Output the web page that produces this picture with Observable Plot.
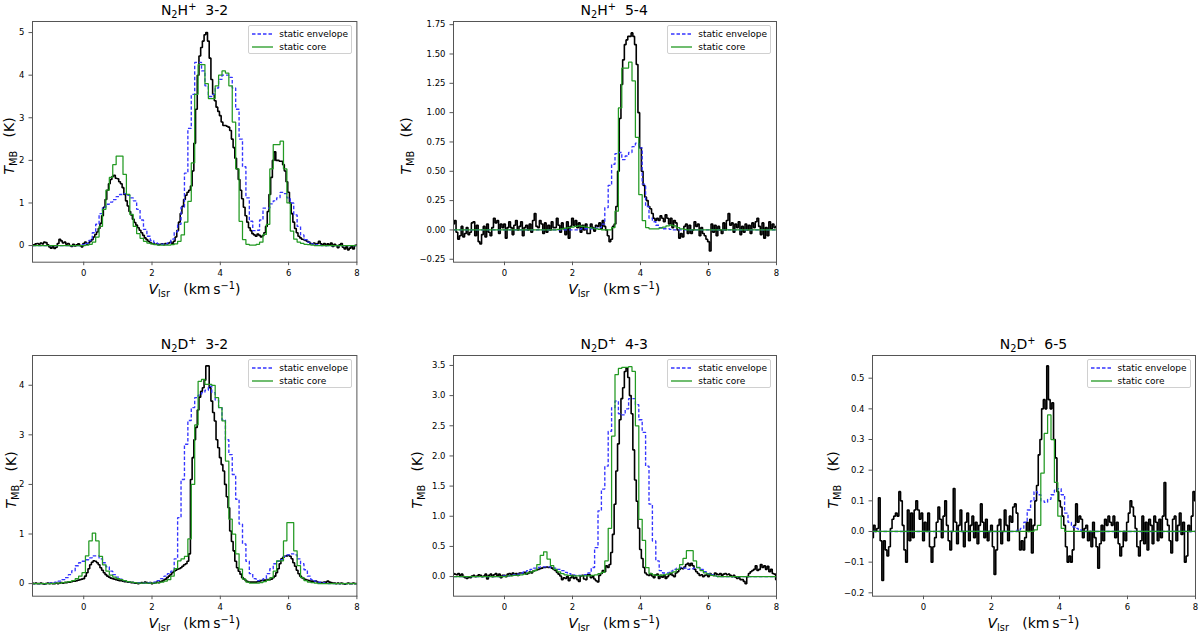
<!DOCTYPE html>
<html>
<head>
<meta charset="utf-8">
<script src="https://cdn.jsdelivr.net/npm/d3@7"></script>
<script src="https://cdn.jsdelivr.net/npm/@observablehq/plot@0.6"></script>
<style>
  html, body { margin: 0; padding: 0; background: #fff; }
  #fig { position: relative; width: 1200px; height: 632px; overflow: hidden; font-family: "DejaVu Sans", sans-serif; color: #000; }
  .txt { position: absolute; white-space: nowrap; line-height: 1; }
  .title { font-size: 14px; transform: translate(-50%, -50%); }
  .xlab { font-size: 14px; transform: translate(-50%, -50%); }
  .ylab { font-size: 14px; transform: translate(-50%, -50%) rotate(-90deg); }
  .sb { position: relative; top: 0.3em; font-size: 0.7em; }
  .sp { position: relative; top: -0.5em; font-size: 0.7em; }
  .legend { position: absolute; box-sizing: border-box; border: 1px solid #d0d0d0; border-radius: 2px; background: rgba(255,255,255,0.85); font-size: 9px; }
  .lrow { position: absolute; left: 0; height: 12px; display: flex; align-items: center; }
  .lrow svg { margin-left: 3px; margin-right: 6px; }
</style>
</head>
<body>
<div id="fig"></div>
<script>
// ---------- channel grids ----------
const OBS_V0 = -1.5, OBS_DV = 0.05;   // observed spectra channels
const MOD_V0 = -1.5, MOD_DV = 0.1;    // model spectra channels
const xDomain = [-1.5, 8];
const xTicks = [0, 2, 4, 6, 8];

// ---------- N2H+ 3-2 ----------
const n2h32Obs = [
 0.00,0.02,0.04,0.05,0.03,0.06,0.04,0.08,0.07,0.02,
 -0.03,-0.06,-0.02,-0.07,-0.04,0.05,0.15,0.11,0.06,0.08,
 0.03,0.05,0.00,-0.02,0.03,-0.01,0.02,0.04,0.00,-0.03,
 0.05,0.08,0.03,0.06,0.10,0.14,0.20,0.26,0.32,0.40,
 0.52,0.70,0.90,1.08,1.30,1.45,1.55,1.62,1.65,1.58,
 1.57,1.50,1.45,1.36,1.20,1.05,0.93,0.80,0.72,0.62,
 0.54,0.48,0.42,0.36,0.30,0.24,0.18,0.14,0.10,0.07,
 0.05,0.04,0.03,0.04,0.02,0.03,0.04,0.02,0.05,0.04,
 0.06,0.08,0.05,0.10,0.20,0.35,0.55,0.75,0.92,1.08,
 1.18,1.25,1.30,1.40,1.75,2.40,3.20,4.00,4.45,4.65,
 4.80,4.95,5.00,4.80,4.40,3.90,3.55,3.40,3.25,3.15,
 3.05,2.90,2.82,2.82,2.80,2.78,2.70,2.50,2.30,2.05,
 1.80,1.55,1.30,1.10,0.90,0.70,0.55,0.42,0.35,0.28,
 0.25,0.22,0.27,0.24,0.20,0.23,0.30,0.45,0.80,1.20,
 1.60,2.00,2.20,2.00,2.00,1.98,1.98,1.90,1.75,1.50,
 1.25,1.00,0.75,0.55,0.40,0.30,0.22,0.18,0.15,0.14,
 0.12,0.10,0.08,0.05,0.04,0.06,0.03,0.05,0.10,0.04,
 0.02,0.05,0.00,0.04,0.01,0.06,-0.02,0.03,0.00,-0.05,
 0.02,0.05,-0.04,-0.08,-0.03,-0.10,-0.06,-0.02,-0.08,0.00,
 0.02];
const n2h32Env = [
 0,0,0,0,0,0,0,0,0,0,
 0,0,0,0,0,0.02,0.05,0.12,0.30,0.50,
 0.75,0.90,0.97,1.02,1.08,1.15,1.20,1.22,1.18,1.12,
 1.05,0.85,0.60,0.38,0.22,0.12,0.07,0.04,0.03,0.04,
 0.06,0.15,0.32,0.50,0.90,1.70,2.75,3.55,4.30,4.30,
 4.10,3.75,3.50,3.55,3.70,3.90,4.00,4.00,3.95,3.70,
 3.20,2.50,1.85,1.12,0.57,0.35,0.36,0.60,0.88,0.88,
 0.98,1.05,1.12,1.25,1.22,1.12,1.00,0.72,0.45,0.25,
 0.14,0.08,0.04,0.02,0.01,0,0,0,0,0,
 0,0,0,0,0,0];
const n2h32Core = [
 0,0,0,0,0,0,0,0,0,0,
 0,0,0,0,0,0,0.01,0.03,0.08,0.20,
 0.45,0.85,1.30,1.60,1.90,2.10,2.10,1.67,1.20,0.73,
 0.45,0.28,0.17,0.10,0.06,0.04,0.02,0.01,0.01,0.01,
 0.01,0.02,0.04,0.10,0.25,0.55,1.04,1.94,3.55,4.25,
 4.25,3.80,3.45,3.45,3.75,4.00,4.10,4.05,3.75,2.90,
 1.80,0.57,0.14,0.03,0.01,0.01,0.03,0.08,0.26,0.50,
 1.80,2.37,2.37,2.45,1.80,1.00,0.34,0.15,0.08,0.05,
 0.03,0.02,0.01,0,0,0,0,0,0,0,
 0,0,0,0,0,0];
const n2h32YDomain = [-0.39, 5.26];
const n2h32YTicks = [0, 1, 2, 3, 4, 5];

// ---------- N2H+ 5-4 ----------
const n2h54Obs = [
 0.05,0.08,-0.02,-0.08,-0.05,0.03,-0.06,-0.03,0.02,-0.04,
 -0.02,0.06,0.07,-0.05,0.04,-0.10,-0.12,-0.04,0.03,-0.06,
 0.05,-0.02,-0.05,0.02,0.10,0.06,0.08,-0.03,0.05,0.02,
 0.05,-0.07,0.02,0.07,0.02,-0.04,0.04,0.08,0.00,0.03,
 0.07,-0.05,0.02,0.04,0.00,0.05,-0.02,0.08,0.14,0.03,
 0.02,0.08,0.05,-0.03,0.06,-0.02,0.04,0.00,0.07,0.02,
 0.02,0.10,0.04,-0.02,0.06,0.01,-0.04,0.07,-0.07,0.03,
 0.10,0.04,0.08,0.02,0.06,-0.02,0.04,0.00,0.05,-0.03,
 -0.03,0.05,0.02,-0.01,0.04,0.03,0.06,0.01,0.08,0.03,
 0.00,-0.05,-0.10,-0.08,0.03,0.05,0.20,0.50,0.95,1.24,
 1.45,1.58,1.62,1.65,1.65,1.68,1.65,1.58,1.41,1.00,
 0.70,0.50,0.38,0.28,0.25,0.20,0.18,0.14,0.10,0.08,
 0.10,0.08,0.12,0.10,0.07,0.13,0.10,0.05,0.10,0.02,
 0.08,0.06,0.00,-0.07,-0.03,-0.06,0.03,0.05,-0.03,0.04,
 -0.03,0.00,0.07,0.03,0.05,-0.05,0.02,-0.03,-0.05,-0.08,
 -0.10,-0.18,0.05,-0.02,0.04,-0.05,0.03,0.00,-0.03,0.06,
 0.00,0.08,0.14,0.04,0.06,-0.02,0.05,0.02,0.07,-0.04,
 0.03,-0.02,0.05,0.00,0.04,-0.03,0.06,0.02,0.07,0.10,
 0.03,-0.04,0.06,-0.07,0.02,-0.05,0.07,0.01,0.05,0.02,
 0.03];
const n2h54Env = [
 0,0,0,0,0,0,0,0,0,0,
 0,0,0,0,0,0,0,0,0,0,
 0,0,0,0,0,0,0,0,0,0,
 0,0,0,0,0,0,0,0.005,0.01,0.01,
 0.01,0.01,0.015,0.02,0.05,0.19,0.38,0.56,0.65,0.66,
 0.60,0.63,0.66,0.71,0.74,0.70,0.39,0.20,0.10,0.07,
 0.04,0.02,0.01,0.01,0.005,0,0,0,0,0,
 0,0,0,0,0,0,0,0,0,0,
 0,0,0,0,0,0,0,0,0,0,
 0,0,0,0,0,0];
const n2h54Core = [
 0,0,0,0,0,0,0,0,0,0,
 0,0,0,0,0,0,0,0,0,0,
 0,0,0,0,0,0,0,0,0,0,
 0,0.005,0.01,0.015,0.02,0.025,0.03,0.035,0.03,0.025,
 0.02,0.015,0.01,0.005,0,0,0,0.02,0.16,1.04,
 1.38,1.38,1.43,1.27,0.79,0.30,0.08,0.02,0.01,0.01,
 0.01,0.015,0.025,0.035,0.04,0.035,0.02,0.01,0.005,0,
 0,0,0,0,0,0,0,0,0,0,
 0,0,0,0,0,0,0,0,0,0,
 0,0,0,0,0,0];
const n2h54YDomain = [-0.275, 1.777];
const n2h54YTicks = [-0.25, 0, 0.25, 0.5, 0.75, 1, 1.25, 1.5, 1.75];

// ---------- N2D+ 3-2 ----------
const n2d32Obs = [
 0.01,0.00,0.01,0.00,0.00,0.01,0.00,-0.01,0.00,0.01,
 0.00,0.01,0.00,0.00,0.01,0.00,0.01,0.02,0.01,0.02,
 0.02,0.03,0.03,0.04,0.05,0.05,0.06,0.07,0.08,0.09,
 0.10,0.15,0.22,0.30,0.38,0.43,0.46,0.45,0.42,0.38,
 0.32,0.27,0.22,0.18,0.15,0.13,0.11,0.10,0.09,0.08,
 0.07,0.06,0.06,0.05,0.04,0.04,0.03,0.03,0.02,0.02,
 0.01,0.01,0.00,0.01,0.02,0.01,0.03,0.02,0.01,0.02,
 0.00,0.01,0.02,0.03,0.02,0.04,0.05,0.07,0.09,0.12,
 0.15,0.18,0.22,0.25,0.27,0.29,0.30,0.32,0.35,0.38,
 0.40,0.45,0.60,2.10,2.54,2.90,3.15,3.50,3.76,3.88,
 3.95,4.10,4.39,4.39,3.95,3.68,3.45,3.28,2.90,2.74,
 2.54,2.40,2.27,2.00,1.75,1.53,1.06,0.85,0.66,0.45,
 0.32,0.25,0.19,0.12,0.09,0.06,0.04,0.03,0.03,0.03,
 0.03,0.03,0.04,0.05,0.06,0.07,0.07,0.07,0.08,0.08,
 0.09,0.12,0.15,0.22,0.30,0.40,0.50,0.53,0.55,0.56,
 0.57,0.55,0.50,0.42,0.35,0.27,0.20,0.15,0.12,0.10,
 0.08,0.07,0.06,0.05,0.05,0.04,0.05,0.03,0.02,0.02,
 0.02,0.03,0.03,0.05,0.03,0.02,0.01,0.01,0.00,0.01,
 0.00,0.01,0.00,-0.01,0.00,0.01,0.00,0.00,0.01,0.00,
 0.00];
const n2d32Env = [
 0,0,0,0,0,0.01,0.02,0.03,0.05,0.08,
 0.12,0.18,0.26,0.36,0.42,0.45,0.48,0.52,0.56,0.56,
 0.50,0.42,0.34,0.25,0.18,0.13,0.09,0.06,0.04,0.03,
 0.02,0.02,0.01,0.01,0.02,0.02,0.03,0.06,0.10,0.15,
 0.20,0.25,0.50,1.33,2.10,2.81,3.29,3.55,3.75,3.80,
 3.85,3.90,3.98,3.85,3.70,3.55,3.30,2.90,2.60,2.20,
 1.70,1.20,0.80,0.45,0.20,0.10,0.06,0.07,0.10,0.20,
 0.30,0.40,0.45,0.48,0.55,0.58,0.60,0.58,0.50,0.40,
 0.28,0.15,0.08,0.05,0.03,0.02,0.01,0,0,0,
 0,0,0,0,0,0];
const n2d32Core = [
 0,0,0,0,0,0,0,0.01,0.01,0.02,
 0.03,0.04,0.06,0.10,0.15,0.22,0.56,0.86,1.02,0.86,
 0.55,0.38,0.25,0.17,0.13,0.10,0.08,0.06,0.04,0.03,
 0.02,0.01,0.01,0.01,0.01,0.01,0.01,0.02,0.03,0.05,
 0.08,0.15,0.30,0.46,0.50,0.55,0.90,2.00,3.20,4.08,
 4.12,4.02,4.02,4.00,3.75,3.55,3.28,2.47,1.30,1.00,
 0.60,0.29,0.09,0.03,0.01,0.01,0.01,0.02,0.04,0.07,
 0.12,0.25,0.46,0.46,0.86,1.23,1.23,0.66,0.36,0.12,
 0.06,0.03,0.02,0.01,0,0,0,0,0,0,
 0,0,0,0,0,0];
const n2d32YDomain = [-0.254, 4.6];
const n2d32YTicks = [0, 1, 2, 3, 4];

// ---------- N2D+ 4-3 ----------
const n2d43Obs = [
 0.05,0.04,0.03,0.05,0.02,0.04,0.00,-0.02,-0.03,-0.01,
 -0.02,0.01,0.02,0.00,0.01,0.03,0.02,0.00,0.01,0.04,
 -0.04,0.02,0.04,0.00,0.03,0.05,0.01,0.04,-0.02,0.02,
 0.02,0.00,0.04,0.05,0.02,0.06,0.03,0.05,0.02,0.06,
 0.06,0.05,0.07,0.04,0.05,0.08,0.06,0.09,0.10,0.11,
 0.12,0.13,0.14,0.15,0.15,0.16,0.15,0.16,0.14,0.12,
 0.10,0.07,0.04,0.01,-0.05,-0.02,-0.03,0.00,-0.07,-0.02,
 0.02,-0.03,-0.01,-0.05,-0.08,0.01,0.02,-0.04,-0.05,0.03,
 0.03,-0.02,0.00,-0.04,-0.07,-0.09,0.02,0.05,0.10,0.08,
 0.18,0.15,0.20,0.40,0.70,1.20,1.75,2.20,2.60,2.95,
 3.13,3.40,3.46,3.30,3.00,2.70,2.10,1.60,1.25,0.80,
 0.45,0.30,0.15,0.06,0.03,0.02,0.05,0.01,-0.02,0.03,
 0.04,-0.03,0.02,-0.01,0.02,-0.03,0.00,0.03,0.05,0.02,
 0.00,0.06,0.08,0.12,0.14,0.13,0.16,0.20,0.22,0.18,
 0.22,0.18,0.12,0.08,0.05,0.02,0.03,0.00,0.02,0.03,
 0.00,0.05,0.03,0.02,0.06,0.04,0.03,0.05,0.02,0.04,
 0.05,0.03,0.04,0.02,0.00,0.02,-0.01,-0.03,-0.02,-0.05,
 -0.05,-0.08,-0.12,0.00,0.05,0.08,0.10,0.12,0.18,0.10,
 0.12,0.20,0.15,0.18,0.12,0.17,0.08,0.12,0.05,0.04,
 -0.05];
const n2d43Env = [
 0,0,0,0,0,0,0,0,0,0,
 0,0,0,0,0,0.01,0.01,0.02,0.03,0.04,
 0.06,0.08,0.10,0.12,0.14,0.15,0.16,0.16,0.16,0.15,
 0.14,0.12,0.10,0.07,0.05,0.03,0.02,0.02,0.02,0.03,
 0.06,0.15,0.48,1.09,1.45,1.83,2.41,2.80,2.91,2.70,
 2.68,2.78,2.95,2.95,2.85,2.60,2.39,1.83,1.20,0.59,
 0.26,0.10,0.06,0.06,0.09,0.12,0.14,0.15,0.14,0.12,
 0.13,0.14,0.15,0.12,0.08,0.05,0.03,0.01,0,0,
 0,0,0,0,0,0,0,0,0,0,
 0,0,0,0,0,0];
const n2d43Core = [
 0,0,0,0,0,0,0,0,0,0,
 0,0,0,0,0,0,0.01,0.01,0.02,0.02,
 0.03,0.04,0.06,0.08,0.10,0.20,0.35,0.41,0.29,0.18,
 0.12,0.08,0.05,0.03,0.02,0.01,0.01,0.01,0.01,0.01,
 0.01,0.02,0.03,0.05,0.07,0.26,0.80,2.33,3.35,3.45,
 3.47,3.47,3.48,3.40,2.50,0.95,0.60,0.15,0.05,0.03,
 0.02,0.02,0.03,0.04,0.06,0.08,0.12,0.20,0.30,0.43,
 0.43,0.26,0.15,0.10,0.06,0.04,0.02,0.01,0,0,
 0,0,0,0,0,0,0,0,0,0,
 0,0,0,0,0,0];
const n2d43YDomain = [-0.325, 3.665];
const n2d43YTicks = [0, 0.5, 1, 1.5, 2, 2.5, 3, 3.5];

// ---------- N2D+ 6-5 ----------
const n2d65Obs = [
 -0.02,0.02,0.00,0.01,0.11,-0.03,-0.16,-0.03,-0.06,-0.08,
 -0.05,0.01,0.04,0.05,0.06,0.05,0.13,0.10,0.02,-0.06,
 -0.10,0.07,-0.03,0.06,-0.02,0.07,0.10,0.07,0.04,0.06,
 -0.03,0.03,0.00,0.06,-0.05,-0.10,-0.05,-0.02,0.03,0.08,
 0.04,-0.02,0.05,0.10,0.02,-0.03,-0.06,0.00,0.14,0.03,
 -0.04,0.02,0.07,0.00,-0.05,0.03,0.06,-0.03,0.02,0.05,
 -0.02,0.03,-0.04,0.02,0.09,0.03,-0.02,0.04,-0.03,0.00,
 0.02,-0.05,-0.14,-0.06,0.02,0.04,-0.04,0.00,0.07,0.02,
 -0.03,0.05,0.03,0.08,0.09,0.06,0.00,-0.06,-0.03,-0.06,
 -0.02,0.03,0.00,0.04,-0.07,0.02,0.10,0.15,0.25,0.30,
 0.40,0.43,0.40,0.54,0.43,0.40,0.42,0.30,0.24,0.13,
 0.10,0.08,0.05,0.02,-0.05,-0.10,-0.08,-0.10,-0.06,0.02,
 0.09,0.03,0.05,0.04,-0.02,0.01,0.02,-0.03,0.00,-0.05,
 0.03,-0.02,-0.05,-0.12,-0.04,0.02,-0.03,0.04,0.02,0.05,
 0.03,0.02,0.05,-0.02,0.03,-0.04,-0.08,-0.05,0.00,-0.03,
 0.03,0.06,0.10,0.08,0.05,0.01,-0.05,-0.08,-0.03,0.05,
 -0.04,0.03,-0.06,0.04,0.02,-0.04,0.05,0.03,-0.03,0.04,
 -0.02,0.05,0.16,0.04,0.02,-0.03,-0.07,0.04,0.05,-0.03,
 0.02,0.06,-0.01,0.03,-0.10,-0.08,0.02,0.00,0.05,0.13,
 0.10];
const n2d65Env = [
 0,0,0,0,0,0,0,0,0,0,
 0,0,0,0,0,0,0,0,0,0,
 0,0,0,0,0,0,0,0,0,0,
 0,0,0,0,0,0,0,0,0,0,
 0,0,0,0.005,0.01,0.03,0.07,0.10,0.13,0.12,
 0.10,0.095,0.105,0.12,0.135,0.14,0.12,0.06,0.03,0.015,
 0.01,0.005,0,0,0,0,0,0,0,0,
 0,0,0,0,0,0,0,0,0,0,
 0,0,0,0,0,0,0,0,0,0,
 0,0,0,0,0,0];
const n2d65Core = [
 0,0,0,0,0,0,0,0,0,0,
 0,0,0,0,0,0,0,0,0,0,
 0,0,0,0,0,0,0,0,0,0,
 0,0,0,0,0,0,0,0,0,0,
 0,0,0,0,0,0,0,0,0.005,0.02,
 0.19,0.32,0.38,0.30,0.16,0.05,0.01,0,0,0,
 0,0,0,0,0,0,0,0,0,0,
 0,0,0,0,0,0,0,0,0,0,
 0,0,0,0,0,0,0,0,0,0,
 0,0,0,0,0,0];
const n2d65YDomain = [-0.211, 0.574];
const n2d65YTicks = [-0.2, -0.1, 0, 0.1, 0.2, 0.3, 0.4, 0.5];

// ---------- labels ----------
const legendLabels = ["static envelope", "static core"];
const xLabelHTML = "<i>V</i><span class='sb'>lsr</span>&nbsp;&nbsp;&nbsp;(km&thinsp;s<span class='sp'>\u22121</span>)";
const yLabelHTML = "<i>T</i><span class='sb'>MB</span>&nbsp;&nbsp;&nbsp;(K)";

// ---------- layout / styling ----------
const COLORS = { obs: "#000000", env: "#3535ff", core: "#239a23" };

const panels = [
  { title: "N<span class='sb'>2</span>H<span class='sp'>+</span>&nbsp; 3-2", obs: n2h32Obs, env: n2h32Env, core: n2h32Core,
    yDomain: n2h32YDomain, yTicks: n2h32YTicks, fmt: "d", l: 32.3, t: 20.6, w: 324.4, h: 240.7, ylabX: 9 },
  { title: "N<span class='sb'>2</span>H<span class='sp'>+</span>&nbsp; 5-4", obs: n2h54Obs, env: n2h54Env, core: n2h54Core,
    yDomain: n2h54YDomain, yTicks: n2h54YTicks, fmt: ".2f", l: 452.7, t: 20.6, w: 323, h: 240.7, ylabX: 406 },
  { title: "N<span class='sb'>2</span>D<span class='sp'>+</span>&nbsp; 3-2", obs: n2d32Obs, env: n2d32Env, core: n2d32Core,
    yDomain: n2d32YDomain, yTicks: n2d32YTicks, fmt: "d", l: 32.3, t: 354.6, w: 324.4, h: 240.7, ylabX: 11 },
  { title: "N<span class='sb'>2</span>D<span class='sp'>+</span>&nbsp; 4-3", obs: n2d43Obs, env: n2d43Env, core: n2d43Core,
    yDomain: n2d43YDomain, yTicks: n2d43YTicks, fmt: ".1f", l: 452.7, t: 354.6, w: 323, h: 240.7, ylabX: 417 },
  { title: "N<span class='sb'>2</span>D<span class='sp'>+</span>&nbsp; 6-5", obs: n2d65Obs, env: n2d65Env, core: n2d65Core,
    yDomain: n2d65YDomain, yTicks: n2d65YTicks, fmt: ".1f", l: 872, t: 354.6, w: 323, h: 240.7, ylabX: 833 }
];

function spectrum(values, v0, dv) {
  return values.map((t, i) => ({ v: Math.round((v0 + i * dv) * 1000) / 1000, t }));
}

const fig = document.getElementById("fig");
const ML = 46, MR = 6, MT = 6, MB = 22;

function addText(cls, html, x, y) {
  const d = document.createElement("div");
  d.className = "txt " + cls;
  d.innerHTML = html;
  d.style.left = x + "px";
  d.style.top = y + "px";
  fig.appendChild(d);
  return d;
}

for (const p of panels) {
  const svg = Plot.plot({
    width: p.w + ML + MR,
    height: p.h + MT + MB,
    marginLeft: ML, marginRight: MR, marginTop: MT, marginBottom: MB,
    style: { fontFamily: "DejaVu Sans, sans-serif", fontSize: "8.5px", background: "transparent", color: "#000", overflow: "visible" },
    x: { domain: xDomain },
    y: { domain: p.yDomain },
    marks: [
      Plot.line(spectrum(p.obs, OBS_V0, OBS_DV), { x: "v", y: "t", curve: "step", stroke: COLORS.obs, strokeWidth: 1.6, strokeLinejoin: "miter", strokeLinecap: "butt" }),
      Plot.line(spectrum(p.env, MOD_V0, MOD_DV), { x: "v", y: "t", curve: "step", stroke: COLORS.env, strokeWidth: 1.35, strokeDasharray: "3.5,2", strokeLinejoin: "miter", strokeLinecap: "butt" }),
      Plot.line(spectrum(p.core, MOD_V0, MOD_DV), { x: "v", y: "t", curve: "step", stroke: COLORS.core, strokeWidth: 1.25, strokeLinejoin: "miter", strokeLinecap: "butt" }),
      Plot.frame({ stroke: "#555", strokeWidth: 1 }),
      Plot.axisX({ ticks: xTicks, tickSize: 3.5, tickPadding: 4, label: null, tickFormat: d3.format("d"), stroke: "#555" }),
      Plot.axisY({ ticks: p.yTicks, tickSize: 3.5, tickPadding: 4.5, label: null, tickFormat: d3.format(p.fmt), stroke: "#555" })
    ]
  });
  svg.style.position = "absolute";
  svg.style.left = (p.l - ML) + "px";
  svg.style.top = (p.t - MT) + "px";
  fig.appendChild(svg);

  const cx = p.l + p.w / 2;
  addText("title", p.title, cx, p.t - 10.5);
  addText("xlab", xLabelHTML, cx, p.t + p.h + 27.5);
  addText("ylab", yLabelHTML, p.ylabX, p.t + p.h / 2 + 5);

  // legend box
  const lg = document.createElement("div");
  lg.className = "legend";
  const LW = 104, LH = 29;
  lg.style.left = (p.l + p.w - 4.5 - LW) + "px";
  lg.style.top = (p.t + 4.6) + "px";
  lg.style.width = LW + "px";
  lg.style.height = LH + "px";
  const samples = [
    `<line x1="0" x2="21" y1="5" y2="5" stroke="${COLORS.env}" stroke-width="1.3" stroke-dasharray="3.5,2"/>`,
    `<line x1="0" x2="21" y1="5" y2="5" stroke="${COLORS.core}" stroke-width="1.3"/>`
  ];
  legendLabels.forEach((lab, i) => {
    const r = document.createElement("div");
    r.className = "lrow";
    r.style.top = (2 + i * 12.5) + "px";
    r.innerHTML = `<svg width="21" height="10">${samples[i]}</svg><span>${lab}</span>`;
    lg.appendChild(r);
  });
  fig.appendChild(lg);
}
</script>
</body>
</html>
